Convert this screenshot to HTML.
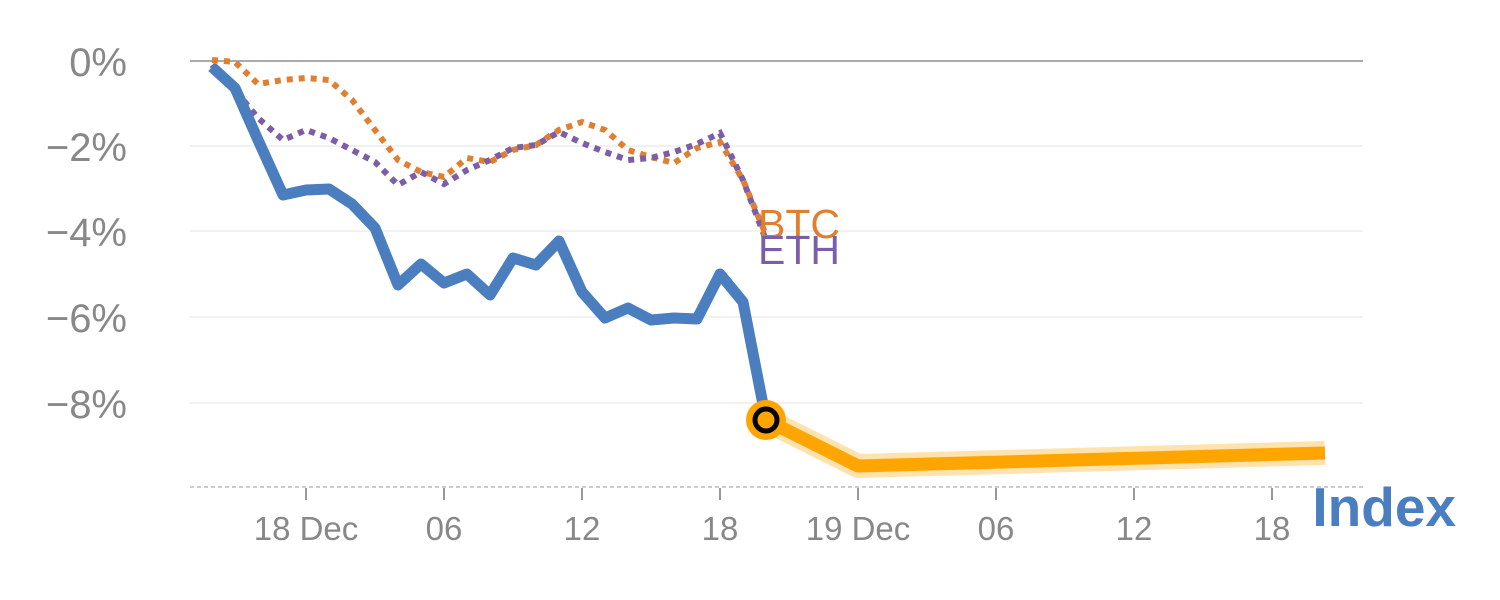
<!DOCTYPE html>
<html><head><style>body{margin:0;background:#fff}svg{display:block}</style></head><body>
<svg width="1500" height="600" xmlns="http://www.w3.org/2000/svg" font-family="Liberation Sans, sans-serif">
<g stroke="#e3e3e3" stroke-width="1">
<line x1="190" y1="146" x2="1363" y2="146"/><line x1="190" y1="231" x2="1363" y2="231"/>
<line x1="190" y1="317" x2="1363" y2="317"/><line x1="190" y1="403" x2="1363" y2="403"/>
</g>
<line x1="190" y1="61" x2="1363" y2="61" stroke="#777" stroke-width="1.2"/>
<line x1="190" y1="487" x2="1363" y2="487" stroke="#ccc" stroke-width="2" stroke-dasharray="4,3"/>
<g fill="#888" font-size="40" text-anchor="end">
<text x="127" y="76">0%</text><text x="127" y="161">−2%</text><text x="127" y="246">−4%</text><text x="127" y="332">−6%</text><text x="127" y="418">−8%</text>
</g>
<g stroke="#999" stroke-width="2">
<line x1="306" y1="488" x2="306" y2="500"/><line x1="444" y1="488" x2="444" y2="500"/><line x1="582" y1="488" x2="582" y2="500"/><line x1="720" y1="488" x2="720" y2="500"/><line x1="858" y1="488" x2="858" y2="500"/><line x1="996" y1="488" x2="996" y2="500"/><line x1="1134" y1="488" x2="1134" y2="500"/><line x1="1272" y1="488" x2="1272" y2="500"/>
</g>
<g fill="#888" font-size="33" text-anchor="middle">
<text x="306" y="540">18 Dec</text><text x="444" y="540">06</text><text x="582" y="540">12</text><text x="720" y="540">18</text><text x="858" y="540">19 Dec</text><text x="996" y="540">06</text><text x="1134" y="540">12</text><text x="1272" y="540">18</text>
</g>
<polyline fill="none" stroke="#e07f30" stroke-width="6" stroke-dasharray="6,6" points="212,60 235,62 258,84 283,80 306,78 329,80 352,100 375,130 398,160 421,172 444,177 467,158 490,162 513,150 536,145 559,130 582,122 605,130 628,150 651,157 674,163 697,148 720,142 743,180 766,235"/>
<polyline fill="none" stroke="#7b5ea7" stroke-width="6" stroke-dasharray="6,6" points="212,65 235,90 258,118 283,140 306,130 329,138 352,150 375,162 398,185 421,172 444,184 467,170 490,160 513,148 536,145 559,132 582,143 605,152 628,160 651,158 674,152 697,144 720,133 743,180 766,240"/>
<text x="758" y="238" fill="#e07f30" font-size="41">BTC</text>
<text x="758" y="264" fill="#7b5ea7" font-size="41">ETH</text>
<polyline fill="none" stroke="#4a7ebf" stroke-width="11" stroke-linejoin="round" points="212,67 235,88 258,140 283,195 306,190 329,189 352,204 375,228 398,285 421,264 444,283 467,274 490,295 513,258 536,265 559,241 582,292 605,318 628,308 651,320 674,318 697,319 720,274 743,302 766,420"/>
<polyline fill="none" stroke="#ffd58a" stroke-width="24" stroke-linejoin="round" opacity="0.7" points="766,420 858,466 1325,453"/>
<polyline fill="none" stroke="#ffa500" stroke-width="13" stroke-linejoin="round" points="766,420 858,466 1325,453"/>
<circle cx="766" cy="420" r="20" fill="#ffa500"/>
<circle cx="766" cy="420" r="11" fill="#ffa500" stroke="#000" stroke-width="5"/>
<text x="1456" y="526" fill="#4a7ebf" font-size="55" font-weight="bold" text-anchor="end">Index</text>
</svg>
</body></html>
